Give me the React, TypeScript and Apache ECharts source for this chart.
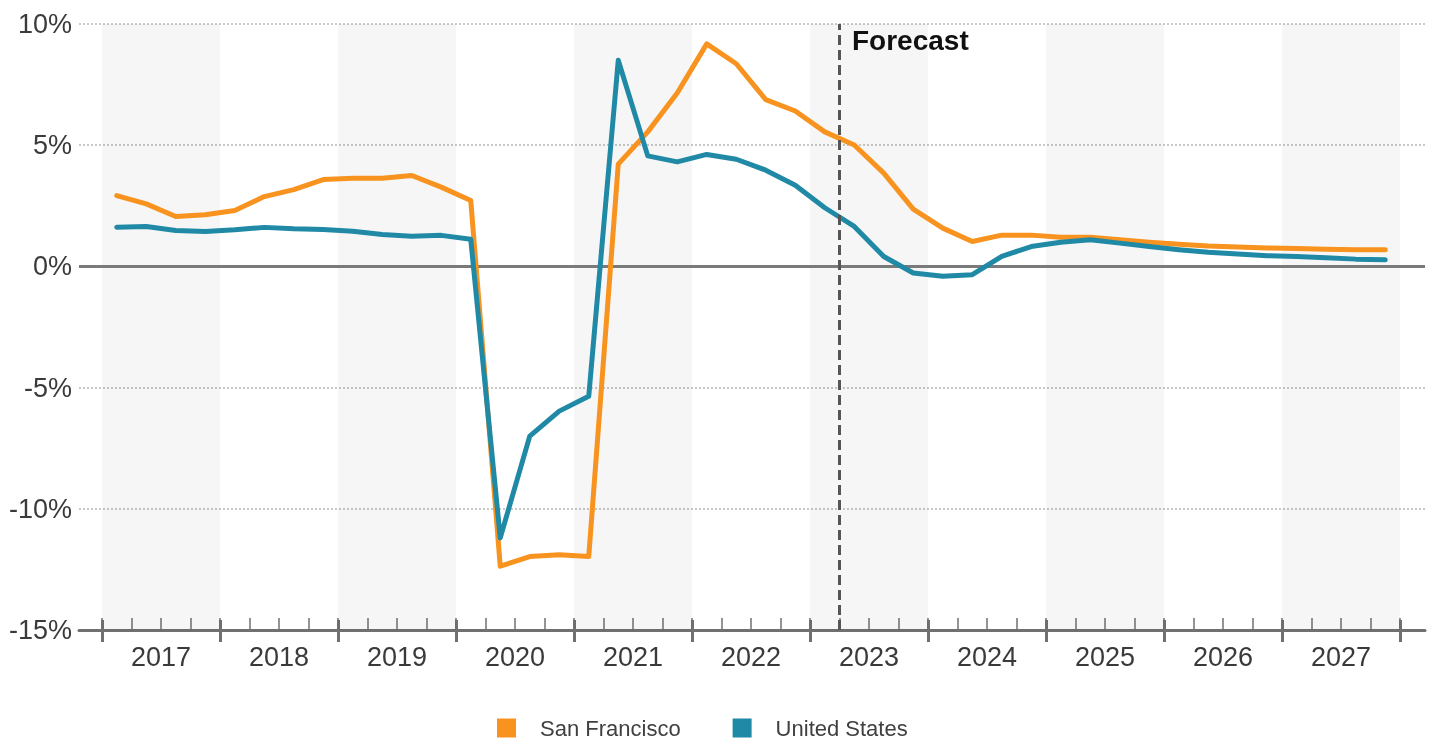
import React, { useEffect, useRef } from "react";
import * as echarts from "echarts";

const years = ["2017", "2018", "2019", "2020", "2021", "2022", "2023", "2024", "2025", "2026", "2027"];
const quarterNames = ["Q1", "Q2", "Q3", "Q4"];
const quarters = years.flatMap((y) => quarterNames.map((q) => `${y} ${q}`));

const sanFrancisco = [
  2.92, 2.58, 2.06, 2.13, 2.31, 2.88, 3.17, 3.58, 3.64, 3.64, 3.75, 3.27,
  2.72, -12.37, -11.97, -11.9, -11.97, 4.22, 5.55, 7.15, 9.18, 8.36, 6.88, 6.41,
  5.55, 5.01, 3.85, 2.36, 1.58, 1.03, 1.29, 1.29, 1.2, 1.2, 1.1, 1.0,
  0.91, 0.84, 0.8, 0.76, 0.74, 0.71, 0.69, 0.69,
];
const unitedStates = [
  1.62, 1.65, 1.48, 1.44, 1.51, 1.61, 1.55, 1.52, 1.45, 1.32, 1.24, 1.28,
  1.12, -11.2, -7.0, -5.97, -5.36, 8.5, 4.56, 4.31, 4.62, 4.42, 3.97, 3.35,
  2.42, 1.65, 0.41, -0.27, -0.41, -0.34, 0.41, 0.82, 1.0, 1.1, 0.96, 0.82,
  0.69, 0.58, 0.51, 0.44, 0.41, 0.36, 0.3, 0.27,
];
const seriesNames = ["San Francisco", "United States"];
const seriesColors = ["#F7931E", "#2089A6"];
const forecastStart = "2023 Q2";
const yMin = -15;
const yMax = 10;
const yStep = 5;

export default function App() {
  const ref = useRef<HTMLDivElement>(null);

  useEffect(() => {
    if (!ref.current) return;
    const chart = echarts.init(ref.current, null, { renderer: "svg" });
    const font = "'Liberation Sans', Arial, Helvetica, sans-serif";
    const nQ = quarters.length;
    const xMin = -23 / 29.5;
    const xMax = nQ + 25 / 29.5;
    const minorTicks = quarters.map((_, i) => i).concat([nQ]);
    const majorTicks = years.map((_, i) => i * 4).concat([nQ]);
    const labelPos = years.map((_, i) => i * 4 + 2);
    const forecastIdx = quarters.indexOf(forecastStart);
    const bands = years
      .map((_, i) => i)
      .filter((i) => i % 2 === 0)
      .map((i) => [{ xAxis: i * 4 }, { xAxis: i * 4 + 4 }]);

    const baseX = {
      type: "value",
      min: xMin,
      max: xMax,
      position: "bottom",
      offset: 0,
      splitLine: { show: false },
    };

    chart.setOption({
      animation: false,
      textStyle: { fontFamily: font },
      grid: { left: 79, right: 7, top: 24, bottom: 110, containLabel: false },
      legend: {
        data: seriesNames,
        left: 492,
        top: 712,
        icon: "rect",
        itemWidth: 19,
        itemHeight: 19,
        itemGap: 52,
        itemStyle: { borderWidth: 0 },
        textStyle: { fontSize: 22, lineHeight: 22, color: "#404040", fontFamily: font, padding: [0, 0, 0, 19] },
      },
      xAxis: [
        {
          ...baseX,
          axisLine: { show: true, onZero: false, lineStyle: { color: "#707070", width: 3 } },
          axisTick: { show: true, inside: true, length: 12, customValues: minorTicks, lineStyle: { color: "#707070", width: 1.5 } },
          axisLabel: { show: false },
        },
        {
          ...baseX,
          axisLine: { show: false, onZero: false },
          axisTick: { show: true, inside: false, length: 12, customValues: majorTicks, lineStyle: { color: "#707070", width: 3 } },
          axisLabel: {
            show: true,
            customValues: labelPos,
            formatter: (v: number) => years[Math.round((v - 2) / 4)] ?? "",
            fontSize: 27,
            color: "#3a3a3a",
            margin: 13,
            fontFamily: font,
          },
        },
        {
          ...baseX,
          axisLine: { show: false, onZero: false },
          axisTick: { show: true, inside: true, length: 10, customValues: majorTicks, lineStyle: { color: "#707070", width: 3 } },
          axisLabel: { show: false },
        },
      ],
      yAxis: {
        type: "value",
        min: yMin,
        max: yMax,
        interval: yStep,
        axisLine: { show: false },
        axisTick: { show: false },
        axisLabel: { formatter: "{value}%", fontSize: 27, color: "#3a3a3a", margin: 7, fontFamily: font },
        splitLine: { show: true, lineStyle: { color: "#b8b8b8", width: 1.5, type: [2, 2] } },
      },
      graphic: [
        {
          type: "text",
          left: 852,
          top: 26,
          style: { text: "Forecast", fontSize: 28, fontWeight: "bold", fill: "#111", fontFamily: font },
          z: 10,
        },
      ],
      series: [
        {
          name: "_bands",
          type: "line",
          data: [],
          silent: true,
          z: 1,
          markArea: {
            silent: true,
            z: 1,
            itemStyle: { color: "rgba(0,0,0,0.035)" },
            data: bands,
          },
          markLine: {
            silent: true,
            z: 1,
            symbol: ["none", "none"],
            label: { show: false },
            lineStyle: { color: "#7a7a7a", width: 3, type: "solid" },
            data: [{ yAxis: 0 }],
          },
        },
        ...seriesNames.map((name, s) => ({
          name,
          type: "line",
          xAxisIndex: 0,
          symbol: "none",
          color: seriesColors[s],
          lineStyle: { width: 5, color: seriesColors[s], join: "round", cap: "round" },
          data: quarters.map((_, i) => [i + 0.5, (s === 0 ? sanFrancisco : unitedStates)[i]]),
          z: 2 + s,
        })),
        {
          name: "_forecast",
          type: "line",
          data: [],
          silent: true,
          z: 5,
          markLine: {
            silent: true,
            z: 5,
            symbol: ["none", "none"],
            label: { show: false },
            lineStyle: { color: "#555", width: 3, type: [10, 5] },
            data: [{ xAxis: forecastIdx }],
          },
        },
      ],
    });

    return () => chart.dispose();
  }, []);

  return <div ref={ref} style={{ position: "fixed", left: 0, top: 0, width: 1432, height: 740 }} />;
}
